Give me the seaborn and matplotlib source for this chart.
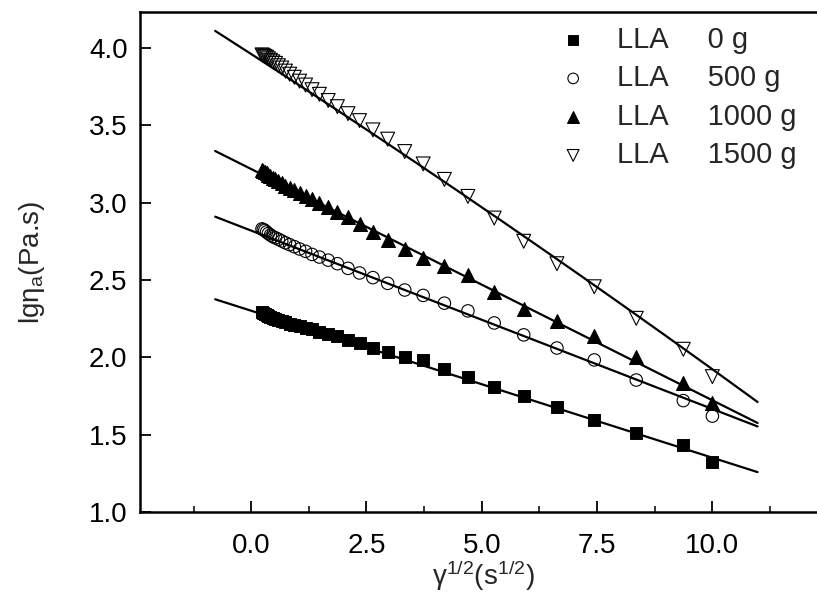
import numpy as np
import matplotlib
matplotlib.use('Agg')
import matplotlib.pyplot as plt
import seaborn as sns

# shear rate^(1/2) values (same for every series)
x_vals = [0.235, 0.264, 0.296, 0.333, 0.373, 0.419, 0.470, 0.527, 0.591, 0.663,
          0.744, 0.835, 0.937, 1.05, 1.18, 1.32, 1.48, 1.67, 1.87, 2.10,
          2.35, 2.64, 2.96, 3.33, 3.73, 4.19, 4.70, 5.27, 5.91, 6.63,
          7.44, 8.35, 9.37, 10.0]

# lg(eta_a) for each LLA loading
lla_0 = [2.29, 2.285, 2.28, 2.272, 2.266, 2.26, 2.252, 2.246, 2.238, 2.232,
         2.226, 2.218, 2.21, 2.20, 2.19, 2.18, 2.165, 2.15, 2.135, 2.115,
         2.09, 2.06, 2.035, 2.005, 1.98, 1.925, 1.875, 1.81, 1.752, 1.68,
         1.595, 1.51, 1.43, 1.325]
lla_500 = [2.83, 2.825, 2.82, 2.81, 2.80, 2.79, 2.78, 2.772, 2.763, 2.752,
           2.74, 2.728, 2.715, 2.70, 2.685, 2.665, 2.648, 2.628, 2.605, 2.575,
           2.545, 2.515, 2.478, 2.435, 2.40, 2.35, 2.30, 2.222, 2.145, 2.06,
           1.983, 1.853, 1.72, 1.62]
lla_1000 = [3.21, 3.205, 3.20, 3.19, 3.18, 3.17, 3.16, 3.15, 3.14, 3.125,
            3.11, 3.095, 3.08, 3.06, 3.04, 3.02, 2.995, 2.97, 2.94, 2.905,
            2.86, 2.81, 2.755, 2.70, 2.645, 2.59, 2.53, 2.42, 2.31, 2.235,
            2.138, 2.0, 1.836, 1.707]
lla_1500 = [3.955, 3.95, 3.945, 3.94, 3.93, 3.92, 3.91, 3.90, 3.885, 3.87,
            3.85, 3.83, 3.81, 3.785, 3.76, 3.73, 3.70, 3.66, 3.62, 3.575,
            3.53, 3.47, 3.41, 3.33, 3.25, 3.15, 3.04, 2.90, 2.75, 2.605,
            2.456, 2.252, 2.052, 1.875]

# fitted curves: a + b*x + c*x^2
fit_0 = [2.301, -0.0950, 0.0]
fit_500 = [2.819, -0.1153, 0.0]
fit_1000 = [3.217, -0.1495, 0.0]
fit_1500 = [3.9605, -0.1925, -0.001126]
fit_range = [-0.78, 10.98]

labels = ['LLA     0 g', 'LLA     500 g', 'LLA     1000 g', 'LLA     1500 g']

sns.set_theme(style='ticks')
plt.rcParams['font.family'] = ['Liberation Sans', 'DejaVu Sans']
plt.rcParams['mathtext.fontset'] = 'custom'
plt.rcParams['mathtext.rm'] = 'Liberation Sans'
plt.rcParams['mathtext.it'] = 'Liberation Sans:italic'

fig = plt.figure(figsize=(8.17, 5.92), dpi=100)
ax = fig.add_axes([140 / 817, 80 / 592, 0.84, 500 / 592])

series = [lla_0, lla_500, lla_1000, lla_1500]
fits = [fit_0, fit_500, fit_1000, fit_1500]
styles = [dict(marker='s', color='black', edgecolor='black', s=70),
          dict(marker='o', facecolor='none', edgecolor='black', s=80, linewidth=0.8),
          dict(marker='^', color='black', edgecolor='black', s=100),
          dict(marker='v', facecolor='none', edgecolor='black', s=100, linewidth=0.8)]

xfit = np.linspace(fit_range[0], fit_range[1], 200)
for ys, cf, lab, st in zip(series, fits, labels, styles):
    sns.scatterplot(x=x_vals, y=ys, ax=ax, label=lab, zorder=2, **st)
    yfit = cf[0] + cf[1] * xfit + cf[2] * xfit ** 2
    sns.lineplot(x=xfit, y=yfit, ax=ax, color='black', linewidth=1.6,
                 zorder=3, legend=False)

ax.set_xlim(-2.41, 12.47)
ax.set_ylim(1.0, 4.232)
ax.set_xticks([0, 2.5, 5, 7.5, 10])
ax.set_xticks([-1.25, 1.25, 3.75, 6.25, 8.75, 11.25], minor=True)
ax.set_yticks([1.0, 1.5, 2.0, 2.5, 3.0, 3.5, 4.0])
ax.set_xticklabels(['0.0', '2.5', '5.0', '7.5', '10.0'])
ax.set_yticklabels(['1.0', '1.5', '2.0', '2.5', '3.0', '3.5', '4.0'])
ax.tick_params(which='major', direction='in', length=8, width=1.3, labelsize=20,
               colors='black', top=False, right=False)
ax.tick_params(axis='x', which='major', pad=15)
ax.tick_params(axis='y', which='major', pad=9)
ax.tick_params(which='minor', direction='in', length=4, width=1.3, top=False, right=False)
for lab in ax.get_xticklabels():
    lab.set_family(['Liberation Sans Narrow', 'Liberation Sans'])
for sp in ax.spines.values():
    sp.set_linewidth(1.8)
    sp.set_color('black')
ax.spines['right'].set_visible(False)

ax.set_xlabel(r'$\mathrm{\gamma^{1/2}(s^{1/2})}$', fontsize=20, labelpad=0)
ax.set_ylabel(r'lg$\mathrm{\eta_a}$(Pa.s)', fontsize=20, labelpad=30)

leg = ax.legend(loc='upper left', bbox_to_anchor=(544 / 817, 1 - 11 / 592),
                bbox_transform=fig.transFigure, frameon=False, fontsize=21,
                handletextpad=1.0, labelspacing=0.36, borderpad=0, handlelength=1.0,
                markerscale=0.85)

fig.savefig('out.png', dpi=100)
